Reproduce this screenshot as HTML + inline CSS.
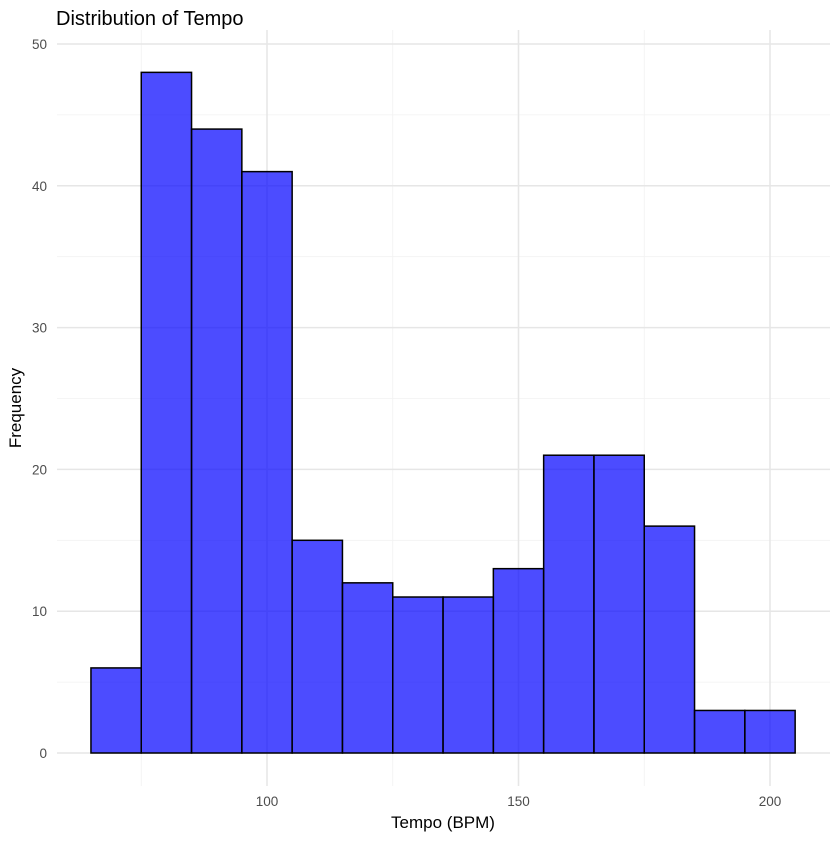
<!DOCTYPE html>
<html><head><meta charset="utf-8"><style>
body{margin:0;background:#fff;}
text{font-family:"Liberation Sans",sans-serif;}
</style></head><body>
<svg id="chart" width="840" height="840" xmlns="http://www.w3.org/2000/svg">
<rect width="840" height="840" fill="#fff"/>
<g id="grid"></g>
<g id="bars"></g>
<g id="ticks"></g>
<text x="56" y="25" font-size="20" fill="#000">Distribution of Tempo</text>
<text x="443" y="828" font-size="17" text-anchor="middle" fill="#000">Tempo (BPM)</text>
<text transform="translate(21,408) rotate(-90)" font-size="17" text-anchor="middle" fill="#000">Frequency</text>
</svg>
<script>
const binStarts=[65,75,85,95,105,115,125,135,145,155,165,175,185,195];
const counts=[6,48,44,41,15,12,11,11,13,21,21,16,3,3];
const binWidth=10;
const xTicks=[100,150,200];
const xMinor=[75,125,175];
const yTicks=[0,10,20,30,40,50];
const yMinor=[5,15,25,35,45];
const NS="http://www.w3.org/2000/svg";
const X=v=>267+(v-100)*(770-267)/100;
const Y=v=>753-v*(753-44)/50;
const L=57,R=830,T=30,B=786;
function mk(t,a,p){const e=document.createElementNS(NS,t);for(const k in a)e.setAttribute(k,a[k]);p.appendChild(e);return e;}
const g=document.getElementById('grid'),bg=document.getElementById('bars'),tg=document.getElementById('ticks');
yMinor.forEach(v=>{const e=mk('line',{x1:L,x2:R,y1:Y(v),y2:Y(v),stroke:'#f2f2f2','stroke-width':0.8},g);

});
xMinor.forEach(v=>{const e=mk('line',{x1:X(v),x2:X(v),y1:T,y2:B,stroke:'#f2f2f2','stroke-width':0.8},g);

});
yTicks.forEach(v=>{const e=mk('line',{x1:L,x2:R,y1:Y(v),y2:Y(v),stroke:'#e6e6e6','stroke-width':1.5},g);


const t=mk('text',{x:47,y:Y(v)+5,'font-size':13.5,'text-anchor':'end',fill:'#4d4d4d'},tg);t.textContent=v;

});
xTicks.forEach(v=>{const e=mk('line',{x1:X(v),x2:X(v),y1:T,y2:B,stroke:'#e6e6e6','stroke-width':1.5},g);


const t=mk('text',{x:X(v),y:806,'font-size':13.5,'text-anchor':'middle',fill:'#4d4d4d'},tg);t.textContent=v;

});
binStarts.forEach((s,i)=>{const x0=X(s),x1=X(s+binWidth),y=Y(counts[i]);
const r=mk('rect',{x:x0,y:y,width:x1-x0,height:Y(0)-y,fill:'rgba(0,0,255,0.7)',stroke:'#000','stroke-width':1.5},bg);

});
</script>
</body></html>
